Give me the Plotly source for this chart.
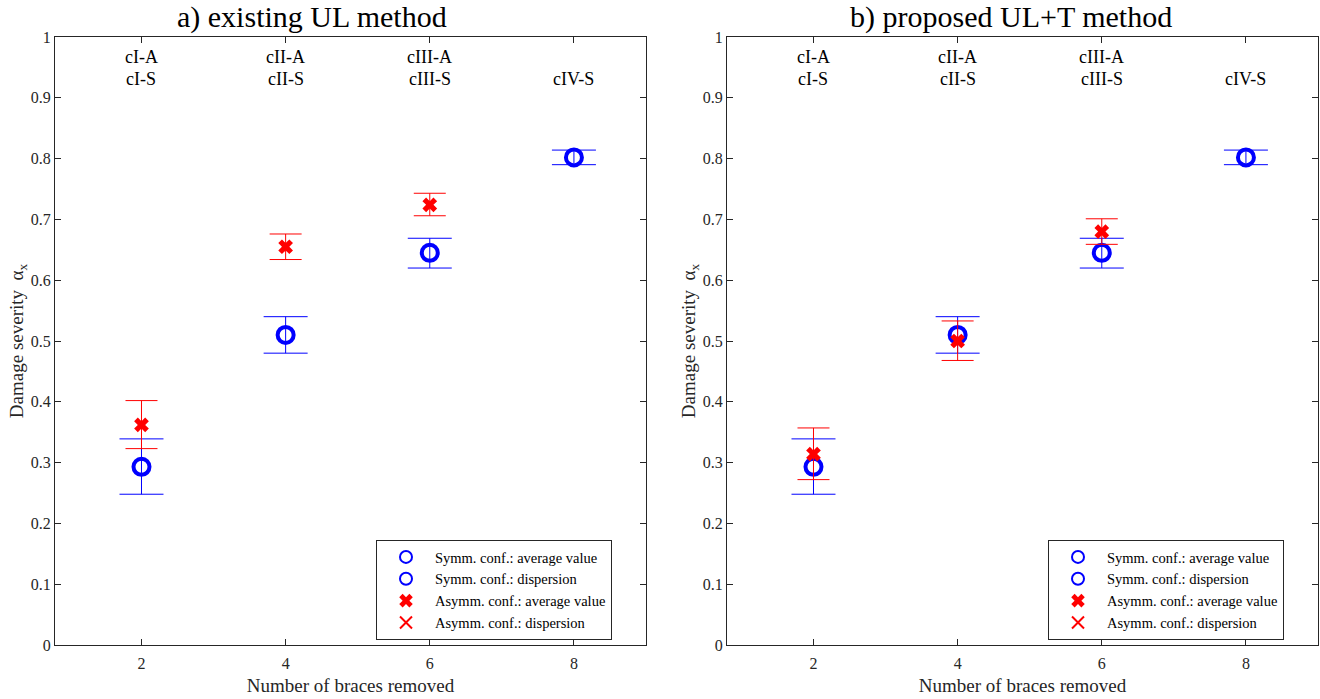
import plotly.graph_objects as go

braces = [2, 4, 6, 8]
braces_asym = [2, 4, 6]

# Symmetric configuration (same in both panels)
symm_avg = [0.293, 0.510, 0.645, 0.802]
symm_hi = [0.339, 0.540, 0.669, 0.814]
symm_lo = [0.248, 0.480, 0.620, 0.790]

# Asymmetric configuration - a) existing UL method
asym_a_avg = [0.362, 0.655, 0.724]
asym_a_hi = [0.402, 0.676, 0.743]
asym_a_lo = [0.323, 0.634, 0.706]

# Asymmetric configuration - b) proposed UL+T method
asym_b_avg = [0.314, 0.500, 0.680]
asym_b_hi = [0.357, 0.533, 0.701]
asym_b_lo = [0.272, 0.468, 0.659]

case_top = ["cI-A", "cII-A", "cIII-A", ""]
case_bot = ["cI-S", "cII-S", "cIII-S", "cIV-S"]

titles = ["a) existing UL method", "b) proposed UL+T method"]
xtick_vals = [2, 4, 6, 8]
ytick_vals = [0, 0.1, 0.2, 0.3, 0.4, 0.5, 0.6, 0.7, 0.8, 0.9, 1]
ytick_text = ["0", "0.1", "0.2", "0.3", "0.4", "0.5", "0.6", "0.7", "0.8", "0.9", "1"]

FONT = "Liberation Serif, Times New Roman, serif"
W, H = 1320, 699
BLUE = "#0000ff"
RED = "#ff0000"

fig = go.Figure()

panels = [
    dict(xa="x", ya="y", leg="legend", avg=asym_a_avg, hi=asym_a_hi, lo=asym_a_lo),
    dict(xa="x2", ya="y2", leg="legend2", avg=asym_b_avg, hi=asym_b_hi, lo=asym_b_lo),
]

for p in panels:
    # Symm dispersion (error bars); marker hidden under the average ring
    fig.add_trace(go.Scatter(
        x=braces, y=symm_avg, mode="markers", xaxis=p["xa"], yaxis=p["ya"],
        legend=p["leg"], name="Symm. conf.: dispersion", legendrank=2,
        marker=dict(symbol="circle-open", size=15, color=BLUE, line=dict(width=1, color=BLUE)),
        error_y=dict(type="data", symmetric=False,
                     array=[h - a for h, a in zip(symm_hi, symm_avg)],
                     arrayminus=[a - l for a, l in zip(symm_avg, symm_lo)],
                     color=BLUE, thickness=1, width=22),
    ))
    # Symm average
    fig.add_trace(go.Scatter(
        x=braces, y=symm_avg, mode="markers", xaxis=p["xa"], yaxis=p["ya"],
        legend=p["leg"], name="Symm. conf.: average value", legendrank=1,
        marker=dict(symbol="circle-open", size=16, color=BLUE, line=dict(width=4, color=BLUE)),
    ))
    # Asymm dispersion
    fig.add_trace(go.Scatter(
        x=braces_asym, y=p["avg"], mode="markers", xaxis=p["xa"], yaxis=p["ya"],
        legend=p["leg"], name="Asymm. conf.: dispersion", legendrank=4,
        marker=dict(symbol="x-thin-open", size=7, color=RED, line=dict(width=1, color=RED)),
        error_y=dict(type="data", symmetric=False,
                     array=[h - a for h, a in zip(p["hi"], p["avg"])],
                     arrayminus=[a - l for a, l in zip(p["avg"], p["lo"])],
                     color=RED, thickness=1, width=16),
    ))
    # Asymm average
    fig.add_trace(go.Scatter(
        x=braces_asym, y=p["avg"], mode="markers", xaxis=p["xa"], yaxis=p["ya"],
        legend=p["leg"], name="Asymm. conf.: average value", legendrank=3,
        marker=dict(symbol="x", size=13, color=RED, line=dict(width=0)),
    ))

x_dom = [[55 / W, 646 / W], [727 / W, 1318 / W]]
y_dom = [1 - 645 / H, 1 - 37 / H]

axis_common = dict(
    showgrid=False, zeroline=False, showline=True, linecolor="#262626", linewidth=1,
    mirror="ticks", ticks="inside", ticklen=6, tickcolor="#262626", automargin=False,
    tickfont=dict(family=FONT, size=16, color="#262626"),
)

annotations = []
title_cx = [312, 1011]
for i, suffix in enumerate(["", "2"]):
    fig.layout["xaxis" + suffix] = dict(
        domain=x_dom[i], range=[0.8, 9], tickvals=xtick_vals, anchor="y" + suffix,
        ticklabelstandoff=4,
        title=dict(text="Number of braces removed", font=dict(family=FONT, size=19, color="#262626"), standoff=7),
        **axis_common)
    fig.layout["yaxis" + suffix] = dict(
        domain=y_dom, range=[0, 1], tickvals=ytick_vals, ticktext=ytick_text, anchor="x" + suffix,
        title=dict(text="Damage severity  α<sub>x</sub>", font=dict(family=FONT, size=19, color="#262626"), standoff=2),
        **axis_common)
    annotations.append(dict(text=titles[i], xref="paper", yref="paper", x=title_cx[i] / W, y=1 - 17 / H,
                            yanchor="middle", xanchor="center", showarrow=False,
                            font=dict(family=FONT, size=30, color="black")))
    xr = "x" + suffix
    yr = "y" + suffix
    for bx, t1, t2 in zip(braces, case_top, case_bot):
        if t1:
            annotations.append(dict(text=t1, x=bx, y=0.967, xref=xr, yref=yr, showarrow=False,
                                    font=dict(family=FONT, size=18, color="black")))
        annotations.append(dict(text=t2, x=bx, y=0.931, xref=xr, yref=yr, showarrow=False,
                                font=dict(family=FONT, size=18, color="black")))

legend_common = dict(
    bgcolor="white", bordercolor="#262626", borderwidth=1,
    font=dict(family=FONT, size=14.5, color="black"),
    xanchor="left", yanchor="top", tracegroupgap=0, itemsizing="constant", itemwidth=48,
)
fig.update_layout(
    width=W, height=H, margin=dict(l=0, r=0, t=0, b=0),
    paper_bgcolor="white", plot_bgcolor="white",
    annotations=annotations,
    legend=dict(x=376 / W, y=1 - 540 / H, **legend_common),
    legend2=dict(x=1048 / W, y=1 - 540 / H, **legend_common),
)

fig.write_html("out.html")
